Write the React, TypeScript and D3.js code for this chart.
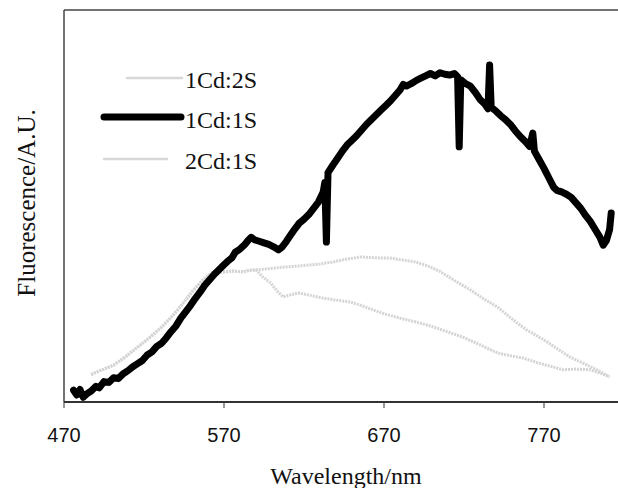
import React from 'react';
import * as d3 from 'd3';

// Tick labels on the wavelength axis
const wavelengthTicks = [470, 570, 670, 770];

// Series names as in the legend
const seriesNames = ['1Cd:2S', '1Cd:1S', '2Cd:1S'];

// 1Cd:1S (black, thick, with spikes) [wavelength nm, fluorescence a.u.]
const cd1s1: [number, number][] = [
  [476, 30], [478, 18], [480, 32], [482, 12], [484, 20], [487, 28], [490, 40], [492, 36],
  [495, 52], [498, 50], [501, 62], [504, 60], [507, 72], [510, 80], [513, 90], [516, 98],
  [519, 106], [522, 120], [525, 128], [528, 142], [531, 150], [534, 164], [537, 180],
  [540, 194], [543, 214], [546, 230], [549, 246], [552, 264], [555, 280], [558, 298],
  [561, 312], [564, 326], [567, 338], [570, 350], [572, 358], [575, 368], [577, 382],
  [580, 390], [583, 402], [585, 412], [587, 420], [589, 414], [592, 410], [595, 406],
  [598, 402], [601, 396], [604, 388], [606, 394], [609, 410], [611, 422], [614, 440],
  [617, 456], [620, 466], [623, 478], [626, 494], [629, 510], [632, 536], [633, 560],
  [634, 408], [635, 585], [638, 604], [641, 622], [644, 640], [647, 656], [650, 668],
  [653, 680], [656, 694], [659, 708], [662, 720], [665, 732], [668, 744], [671, 756],
  [674, 768], [677, 782], [680, 796], [682, 810], [684, 806], [687, 812], [690, 820],
  [693, 826], [696, 832], [699, 838], [702, 832], [705, 840], [708, 836], [711, 834],
  [714, 838], [716, 830], [717, 651], [718, 822], [721, 812], [724, 806], [727, 790],
  [730, 772], [733, 760], [735, 748], [736, 860], [737, 752], [740, 742], [743, 730],
  [746, 720], [749, 708], [752, 692], [755, 678], [758, 666], [761, 652], [763, 686],
  [764, 640], [767, 618], [770, 596], [773, 572], [776, 548], [778, 540], [781, 536],
  [784, 530], [787, 522], [790, 508], [793, 494], [796, 476], [799, 460], [802, 440],
  [805, 420], [807, 400], [809, 412], [811, 440], [812, 482]
];

// 1Cd:2S (light grey, upper)
const cd1s2: [number, number][] = [
  [487, 70], [489, 74], [495, 84], [501, 94], [508, 114], [516, 140], [524, 166],
  [531, 191], [536, 212], [541, 235], [546, 260], [551, 286], [556, 308], [562, 329],
  [566, 331], [570, 332], [576, 334], [582, 332], [586, 336], [590, 337], [598, 340],
  [607, 344], [614, 346], [622, 349], [630, 352], [638, 357], [646, 364], [655, 370],
  [664, 368], [674, 367], [682, 362], [690, 357], [698, 346], [705, 333], [714, 310],
  [724, 286], [732, 264], [741, 242], [750, 212], [759, 184], [766, 168], [772, 153],
  [779, 134], [786, 115], [795, 98], [803, 82], [811, 64]
];

// 2Cd:1S (light grey, lower)
const cd2s1: [number, number][] = [
  [487, 70], [489, 74], [495, 84], [501, 94], [508, 114], [516, 140], [524, 166],
  [531, 191], [536, 212], [541, 235], [546, 260], [551, 286], [556, 308], [562, 329],
  [566, 331], [570, 332], [576, 334], [582, 332], [586, 336], [590, 337], [594, 320],
  [599, 304], [603, 284], [607, 268], [612, 274], [617, 278], [624, 272], [632, 265],
  [640, 260], [649, 255], [656, 246], [663, 235], [671, 224], [680, 214], [690, 204],
  [699, 194], [709, 180], [719, 166], [730, 146], [741, 125], [749, 118], [757, 112],
  [767, 99], [775, 90], [782, 82], [790, 84], [799, 82], [805, 74], [811, 64]
];

const width = 618;
const height = 488;
const margin = { top: 10, left: 64, bottom: 402, right: 624 };

export default function App() {
  const x = d3.scaleLinear().domain([470, 820]).range([margin.left, margin.right]);
  const y = d3.scaleLinear().domain([0, 1000]).range([margin.bottom, margin.top]);

  const line = d3.line<[number, number]>()
    .x(d => x(d[0]))
    .y(d => y(d[1]));

  const serif = '"Liberation Serif", "Times New Roman", serif';
  const sans = '"Liberation Sans", Arial, sans-serif';

  // legend rows: y position of the sample line and of the text baseline
  const legendRows = [
    { name: seriesNames[0], lineY: 78, textY: 88, x1: 127, x2: 182, color: '#d8d8d8', w: 2.5 },
    { name: seriesNames[1], lineY: 117, textY: 128, x1: 104, x2: 181, color: '#000', w: 7 },
    { name: seriesNames[2], lineY: 159, textY: 169, x1: 104, x2: 168, color: '#d8d8d8', w: 2.5 }
  ];

  return (
    <svg width={width} height={height} style={{ position: 'absolute', left: 0, top: 0, background: '#fff' }}>
      {/* frame */}
      <line x1={margin.left} x2={width + 10} y1={margin.top} y2={margin.top} stroke="#444" strokeWidth={1.5} />
      <line x1={margin.left} x2={margin.left} y1={margin.top} y2={margin.bottom} stroke="#444" strokeWidth={1.5} />
      <line x1={margin.left} x2={width + 10} y1={margin.bottom} y2={margin.bottom} stroke="#333" strokeWidth={1.8} />

      {/* x ticks */}
      {wavelengthTicks.map(t => (
        <g key={t}>
          <line x1={x(t)} x2={x(t)} y1={margin.bottom} y2={margin.bottom + 6} stroke="#333" strokeWidth={1} />
          <text x={x(t)} y={442} textAnchor="middle" fontFamily={sans} fontSize={20} fill="#111">{t}</text>
        </g>
      ))}

      {/* series */}
      <path d={line(cd1s2) || ''} fill="none" stroke="#d4d4d4" strokeWidth={3} strokeDasharray="2 1" strokeLinejoin="round" />
      <path d={line(cd2s1) || ''} fill="none" stroke="#d4d4d4" strokeWidth={3} strokeDasharray="2 1" strokeLinejoin="round" />
      <path d={line(cd1s1) || ''} fill="none" stroke="#000" strokeWidth={7} strokeLinejoin="round" strokeLinecap="round" />

      {/* legend */}
      {legendRows.map(r => (
        <g key={r.name}>
          <line x1={r.x1} x2={r.x2} y1={r.lineY} y2={r.lineY} stroke={r.color} strokeWidth={r.w} strokeLinecap="round" strokeDasharray={r.w < 4 ? '3 1' : undefined} />
          <text x={185} y={r.textY} fontFamily={serif} fontSize={24} fill="#111">{r.name}</text>
        </g>
      ))}

      {/* axis titles */}
      <text x={346} y={484} textAnchor="middle" fontFamily={serif} fontSize={24} fill="#111">Wavelength/nm</text>
      <text transform="translate(35,203) rotate(-90)" textAnchor="middle" fontFamily={serif} fontSize={25} fill="#111">Fluorescence/A.U.</text>
    </svg>
  );
}
